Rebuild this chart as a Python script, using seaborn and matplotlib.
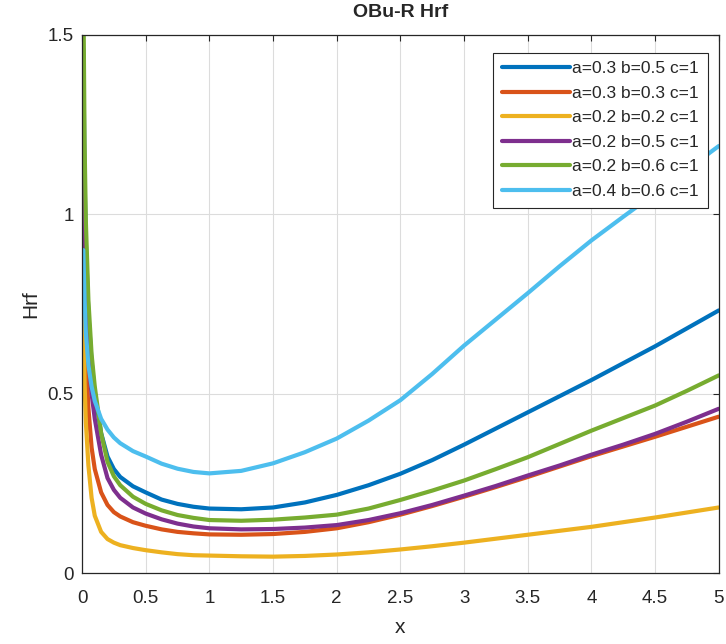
import numpy as np
import pandas as pd
import seaborn as sns
import matplotlib
matplotlib.use("Agg")
import matplotlib.pyplot as plt

# sample points
x = [0.01, 0.02, 0.03, 0.05, 0.075, 0.1, 0.15, 0.2, 0.25, 0.3, 0.4, 0.5,
     0.625, 0.75, 0.875, 1, 1.25, 1.5, 1.75, 2, 2.25, 2.5, 2.75, 3,
     3.25, 3.5, 3.75, 4, 4.25, 4.5, 4.75, 5]

h_a3_b5 = [1.46, 1.10, 0.92, 0.72, 0.59, 0.50, 0.39, 0.325, 0.29, 0.268, 0.242, 0.225,
           0.205, 0.193, 0.185, 0.180, 0.178, 0.183, 0.197, 0.218, 0.245, 0.277, 0.315, 0.358,
           0.403, 0.448, 0.493, 0.538, 0.585, 0.632, 0.682, 0.732]
h_a3_b3 = [0.97, 0.72, 0.60, 0.46, 0.35, 0.29, 0.225, 0.19, 0.17, 0.158, 0.142, 0.132,
           0.122, 0.115, 0.111, 0.108, 0.107, 0.109, 0.115, 0.125, 0.142, 0.163, 0.187, 0.213,
           0.240, 0.268, 0.297, 0.326, 0.353, 0.380, 0.408, 0.436]
h_a2_b2 = [0.75, 0.53, 0.42, 0.30, 0.21, 0.16, 0.115, 0.095, 0.085, 0.078, 0.070, 0.064,
           0.058, 0.053, 0.050, 0.049, 0.047, 0.046, 0.048, 0.052, 0.058, 0.066, 0.075, 0.085,
           0.096, 0.107, 0.118, 0.129, 0.142, 0.155, 0.169, 0.183]
h_a2_b5 = [1.25, 0.92, 0.76, 0.60, 0.50, 0.43, 0.33, 0.265, 0.232, 0.21, 0.183, 0.166,
           0.150, 0.138, 0.130, 0.125, 0.122, 0.123, 0.127, 0.134, 0.148, 0.167, 0.190, 0.216,
           0.243, 0.272, 0.300, 0.330, 0.358, 0.388, 0.422, 0.458]
h_a2_b6 = [1.65, 1.20, 0.98, 0.76, 0.61, 0.52, 0.39, 0.31, 0.27, 0.245, 0.213, 0.193,
           0.175, 0.162, 0.154, 0.148, 0.146, 0.149, 0.155, 0.163, 0.180, 0.204, 0.230, 0.258,
           0.290, 0.323, 0.360, 0.397, 0.432, 0.467, 0.508, 0.551]
h_a4_b6 = [0.90, 0.76, 0.67, 0.58, 0.52, 0.48, 0.43, 0.40, 0.378, 0.362, 0.34, 0.325,
           0.305, 0.291, 0.282, 0.278, 0.285, 0.306, 0.337, 0.375, 0.425, 0.482, 0.555, 0.634,
           0.707, 0.780, 0.855, 0.927, 0.993, 1.058, 1.124, 1.190]

labels = ['a=0.3 b=0.5 c=1', 'a=0.3 b=0.3 c=1', 'a=0.2 b=0.2 c=1',
          'a=0.2 b=0.5 c=1', 'a=0.2 b=0.6 c=1', 'a=0.4 b=0.6 c=1']
series = [h_a3_b5, h_a3_b3, h_a2_b2, h_a2_b5, h_a2_b6, h_a4_b6]
colors = ['#0072BD', '#D95319', '#EDB120', '#7E2F8E', '#77AC30', '#4DBEEE']

df = pd.concat([pd.DataFrame({'x': x, 'Hrf': s, 'curve': lab})
                for lab, s in zip(labels, series)], ignore_index=True)

sns.set_style("white")
plt.rcParams['font.family'] = ['Liberation Sans', 'DejaVu Sans']

fig = plt.figure(figsize=(7.26, 6.44), dpi=100)
ax = fig.add_axes([0.113, 0.110, 0.877, 0.836])

sns.lineplot(data=df, x='x', y='Hrf', hue='curve', palette=colors,
             estimator=None, sort=False, linewidth=3.0, ax=ax)

ax.set_xlim(0, 5)
ax.set_ylim(0, 1.5)
ax.set_xticks(np.arange(0, 5.01, 0.5))
ax.set_xticklabels(['0', '0.5', '1', '1.5', '2', '2.5', '3', '3.5', '4', '4.5', '5'])
ax.set_yticks([0, 0.5, 1, 1.5])
ax.set_yticklabels(['0', '0.5', '1', '1.5'])
ax.grid(True, color='#dcdcdc', linewidth=0.8)
ax.tick_params(direction='in', length=4, top=True, right=True, labelsize=13.5,
               colors='#262626', width=0.8)
ax.tick_params(axis='x', pad=12)
ax.tick_params(axis='y', pad=6)
for sp in ax.spines.values():
    sp.set_color('#262626')
    sp.set_linewidth(0.9)

ax.set_xlabel('x', fontsize=15, color='#262626', labelpad=8)
ax.set_ylabel('Hrf', fontsize=15, color='#262626', labelpad=5)
ax.set_title('OBu-R Hrf', fontsize=14, fontweight='bold', pad=13)

leg = ax.legend(loc='upper right', bbox_to_anchor=(0.983, 0.967), fontsize=12.5,
                frameon=True, fancybox=False, edgecolor='#262626', framealpha=1,
                handlelength=3.9, handletextpad=0.15, borderpad=0.5, labelspacing=0.54,
                borderaxespad=0)
leg.get_frame().set_linewidth(0.8)

fig.savefig('out.png', dpi=100)
